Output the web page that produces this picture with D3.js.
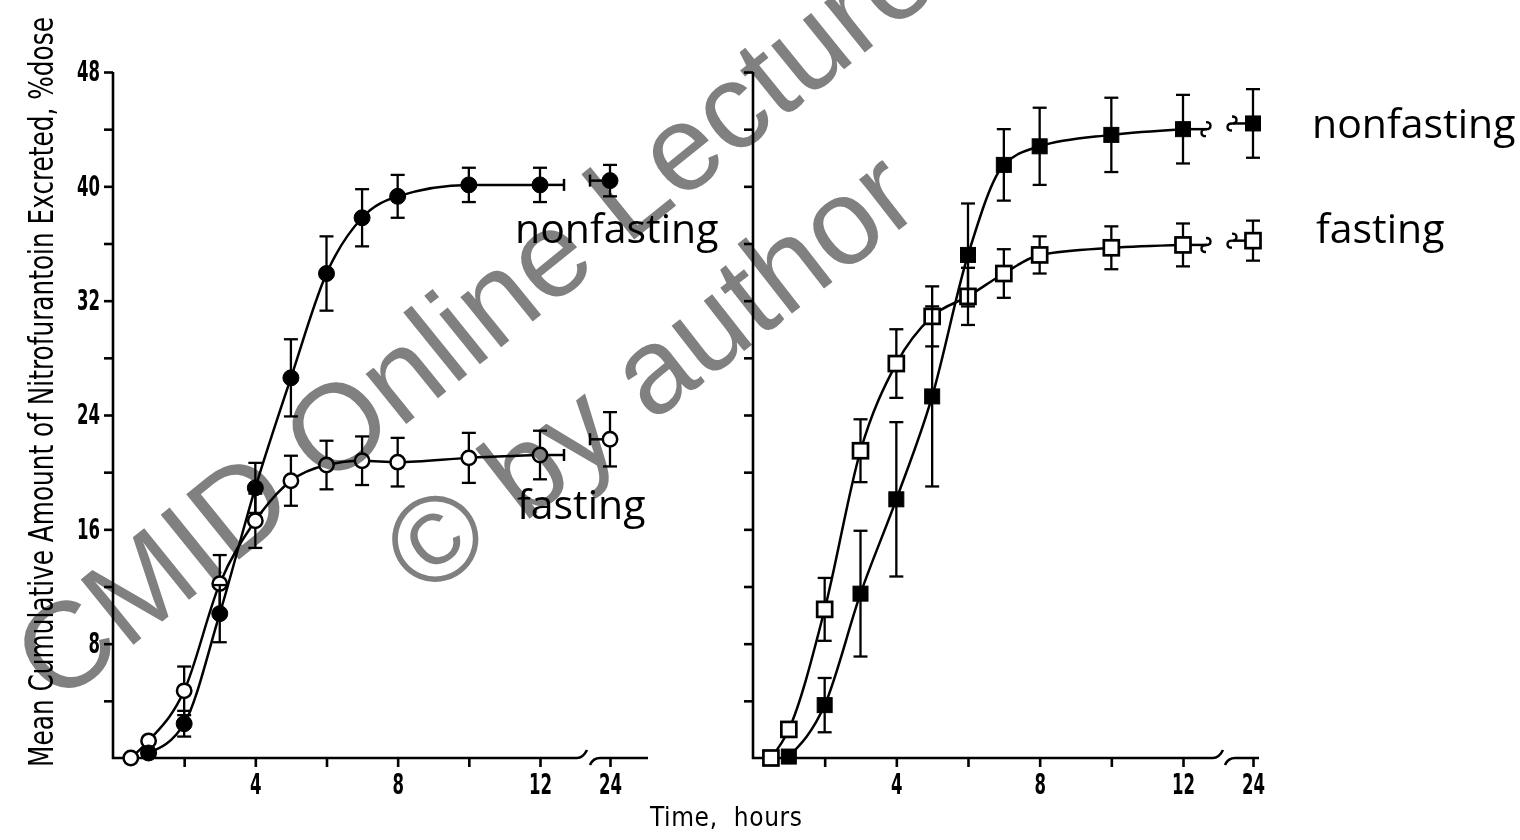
<!DOCTYPE html>
<html lang="en">
<head>
	<meta charset="UTF-8">
	<title>Nitrofurantoin excretion, fasting vs nonfasting</title>
	<script src="https://cdn.jsdelivr.net/npm/d3@7/dist/d3.min.js"></script>
	<style>
		html, body { margin: 0; padding: 0; background: #fff; }
		svg { display: block; }
		.tick text { font-family: "DejaVu Sans Condensed", "DejaVu Sans", sans-serif; font-size: 28px; font-weight: bold; fill: #000; }
	</style>
</head>
<body>
	<div id="chart"></div>
	<script>
		// sampling times (hours)
		const fastTimes = [0.5, 1, 2, 3, 4, 5, 6, 7, 8, 10, 12, 24];
		const fedTimes = [1, 2, 3, 4, 5, 6, 7, 8, 10, 12, 24];

		// left panel (circles)
		const leftFastMean = [0, 1.2, 4.7, 12.2, 16.6, 19.4, 20.5, 20.8, 20.7, 21.0, 21.2, 22.3];
		const leftFastErr = [0, 0, 1.7, 2.0, 1.9, 1.75, 1.7, 1.7, 1.7, 1.75, 1.7, 1.9];
		const leftFedMean = [0.35, 2.4, 10.1, 18.9, 26.6, 33.9, 37.8, 39.3, 40.1, 40.1, 40.4];
		const leftFedErr = [0, 0.9, 2.0, 1.75, 2.7, 2.6, 2.0, 1.5, 1.2, 1.2, 1.1];

		// right panel (squares)
		const rightFastMean = [0, 2.0, 10.4, 21.5, 27.6, 30.9, 32.3, 33.9, 35.2, 35.7, 35.9, 36.2];
		const rightFastErr = [0, 0, 2.2, 2.2, 2.4, 2.1, 2.0, 1.7, 1.3, 1.5, 1.5, 1.4];
		const rightFedMean = [0.1, 3.7, 11.5, 18.1, 25.3, 35.2, 41.5, 42.8, 43.6, 44.0, 44.4];
		const rightFedErr = [0, 1.9, 4.4, 5.4, 6.3, 3.6, 2.5, 2.7, 2.6, 2.4, 2.4];

		const yTicks = [4, 8, 12, 16, 20, 24, 28, 32, 36, 40, 44, 48];
		const xTicks = [2, 4, 6, 8, 10, 12, 24];
		const xLabelled = [4, 8, 12, 24];

		const width = 1520, height = 840;
		const svg = d3.select("#chart").append("svg")
			.attr("width", width)
			.attr("height", height);
		svg.append("rect").attr("width", width).attr("height", height).attr("fill", "#fff");

		const y = d3.scaleLinear().domain([0, 48]).range([758, 72]);
		const base = y(0);

		// broken time axis: 0-12 linear, then jump to 24
		const xL = d3.scaleLinear().domain([0, 12, 24]).range([113, 540, 610]);
		const xR = d3.scaleLinear().domain([0, 12, 24]).range([753, 1183, 1253]);

		function toPts(times, mean, err) {
			return times.map((t, i) => ({ t: t, v: mean[i], e: err[i] }));
		}

		// narrow look for the old typewriter-style digits
		function narrow(sel) {
			sel.selectAll(".tick text")
				.filter(function () { return this.textContent !== ""; })
				.attr("textLength", function () { return this.textContent.length * 11.5; })
				.attr("lengthAdjust", "spacingAndGlyphs");
		}

		function drawPanel(x, opt) {
			const g = svg.append("g");

			// y axis
			const yAxis = d3.axisLeft(y).tickValues(yTicks).tickSize(9).tickSizeOuter(0).tickPadding(4)
				.tickFormat(d => opt.yLabels && d % 8 === 0 ? d : "");
			const ya = g.append("g").attr("transform", `translate(${x(0)},0)`).call(yAxis);
			ya.select(".domain").attr("stroke-width", 2.6).attr("d", `M0,${base + 1}V${y(48)}`);
			ya.selectAll(".tick line").attr("stroke-width", 2.6);
			narrow(ya);

			// x axis with break
			const xAxis = d3.axisBottom(x).tickValues(xTicks).tickSize(9).tickPadding(7)
				.tickFormat(d => xLabelled.includes(d) ? d : "");
			const xa = g.append("g").attr("transform", `translate(0,${base})`).call(xAxis);
			xa.select(".domain").remove();
			xa.selectAll(".tick line").attr("stroke-width", 2.6);
			narrow(xa);

			const e1 = x(12) + opt.seg1;
			g.append("path")
				.attr("d", `M${x(0) - 1},${base}L${e1},${base}Q${e1 + 6},${base} ${e1 + 10},${base - 8}`)
				.attr("fill", "none").attr("stroke", "#000").attr("stroke-width", 2.6);
			const s2 = x(24) - opt.seg2a;
			g.append("path")
				.attr("d", `M${s2 - 7},${base + 7}Q${s2 - 4},${base} ${s2 + 3},${base}L${x(24) + opt.seg2b},${base}`)
				.attr("fill", "none").attr("stroke", "#000").attr("stroke-width", 2.6);

			const line = d3.line().x(d => x(d.t)).y(d => y(d.v)).curve(d3.curveMonotoneX);

			opt.series.forEach(s => {
				const main = s.pts.filter(d => d.t <= 12);
				const last = s.pts[s.pts.length - 1];
				const p12 = main[main.length - 1];
				const lg = g.append("g").attr("stroke", "#000").attr("fill", "none");
				lg.append("path").attr("d", line(main)).attr("stroke-width", 2.5);

				// continuation past 12 h and lead-in to 24 h
				lg.append("line")
					.attr("x1", x(12)).attr("x2", x(12) + 24)
					.attr("y1", y(p12.v)).attr("y2", y(p12.v)).attr("stroke-width", 2.5);
				lg.append("line")
					.attr("x1", x(24) - 20).attr("x2", x(24))
					.attr("y1", y(last.v)).attr("y2", y(last.v)).attr("stroke-width", 2.5);
				if (opt.squiggle) {
					const sq = "c6,0 6,7 0,7 c-6,0 -6,7 0,7";
					lg.append("path").attr("d", `M${x(12) + 23},${y(p12.v) - 7}${sq}`).attr("stroke-width", 2.4);
					lg.append("path").attr("d", `M${x(24) - 21},${y(last.v) - 7}${sq}`).attr("stroke-width", 2.4);
				} else {
					lg.append("line").attr("x1", x(12) + 24).attr("x2", x(12) + 24)
						.attr("y1", y(p12.v) - 6).attr("y2", y(p12.v) + 6).attr("stroke-width", 2.5);
					lg.append("line").attr("x1", x(24) - 20).attr("x2", x(24) - 20)
						.attr("y1", y(last.v) - 6).attr("y2", y(last.v) + 6).attr("stroke-width", 2.5);
				}

				// error bars
				const eb = lg.selectAll(".eb").data(s.pts.filter(d => d.e > 0)).enter().append("g");
				eb.append("line")
					.attr("x1", d => x(d.t)).attr("x2", d => x(d.t))
					.attr("y1", d => y(d.v + d.e)).attr("y2", d => y(d.v - d.e)).attr("stroke-width", 2.3);
				eb.append("line")
					.attr("x1", d => x(d.t) - 7).attr("x2", d => x(d.t) + 7)
					.attr("y1", d => y(d.v + d.e)).attr("y2", d => y(d.v + d.e)).attr("stroke-width", 2.3);
				eb.append("line")
					.attr("x1", d => x(d.t) - 7).attr("x2", d => x(d.t) + 7)
					.attr("y1", d => y(d.v - d.e)).attr("y2", d => y(d.v - d.e)).attr("stroke-width", 2.3);

				// markers
				const mk = g.selectAll(null).data(s.pts).enter();
				if (opt.shape === "circle") {
					mk.append("circle")
						.attr("cx", d => x(d.t)).attr("cy", d => y(d.v))
						.attr("r", s.filled ? 8 : 7.2)
						.attr("fill", s.filled ? "#000" : "#fff")
						.attr("stroke", "#000").attr("stroke-width", s.filled ? 1 : 2.5);
				} else {
					const sz = 15;
					mk.append("rect")
						.attr("x", d => x(d.t) - sz / 2).attr("y", d => y(d.v) - sz / 2)
						.attr("width", sz).attr("height", sz)
						.attr("fill", s.filled ? "#000" : "#fff")
						.attr("stroke", "#000").attr("stroke-width", s.filled ? 1 : 2.7);
				}
			});
		}

		drawPanel(xL, {
			yLabels: true, shape: "circle", squiggle: false, seg1: 37, seg2a: 13, seg2b: 38,
			series: [
				{ pts: toPts(fastTimes, leftFastMean, leftFastErr), filled: false },
				{ pts: toPts(fedTimes, leftFedMean, leftFedErr), filled: true }
			]
		});
		drawPanel(xR, {
			yLabels: false, shape: "square", squiggle: true, seg1: 30, seg2a: 21, seg2b: 6,
			series: [
				{ pts: toPts(fastTimes, rightFastMean, rightFastErr), filled: false },
				{ pts: toPts(fedTimes, rightFedMean, rightFedErr), filled: true }
			]
		});

		// axis titles (y title squeezed to the axis height with a scale, like a condensed face)
		const yTitle = svg.append("text")
			.attr("text-anchor", "middle")
			.style("font-family", "'DejaVu Sans Condensed', 'DejaVu Sans', sans-serif")
			.style("font-size", "34px")
			.text("Mean Cumulative  Amount  of  Nitrofurantoin  Excreted, %dose");
		const natural = yTitle.node().getComputedTextLength();
		yTitle.attr("transform", `translate(53,392) rotate(-90) scale(${750 / natural},1)`);

		svg.append("text")
			.attr("x", 650).attr("y", 826)
			.attr("textLength", 152).attr("lengthAdjust", "spacing")
			.style("font-family", "'DejaVu Sans Condensed', 'DejaVu Sans', sans-serif")
			.style("font-size", "26px")
			.style("white-space", "pre")
			.text("Time,  hours");

		// group labels
		const groupLabels = [
			{ text: "nonfasting", x: 515, y: 243 },
			{ text: "fasting", x: 517, y: 519 },
			{ text: "nonfasting", x: 1312, y: 138 },
			{ text: "fasting", x: 1316, y: 243 }
		];
		svg.selectAll(".grp").data(groupLabels).enter().append("text")
			.attr("x", d => d.x).attr("y", d => d.y)
			.style("font-family", "'Open Sans', sans-serif")
			.style("font-size", "41px")
			.text(d => d.text);

		// watermark
		const wm = svg.append("g").style("mix-blend-mode", "multiply")
			.style("font-family", "'Liberation Sans', Arial, sans-serif")
			.attr("fill", "#808080").attr("text-anchor", "middle");
		wm.append("text")
			.attr("transform", "translate(500,348) rotate(-39)")
			.style("font-size", "122px")
			.text("CMID Online Lecture");
		wm.append("text")
			.attr("transform", "translate(675,405) rotate(-38)")
			.style("font-size", "122px")
			.text("© by author");
	</script>
</body>
</html>
